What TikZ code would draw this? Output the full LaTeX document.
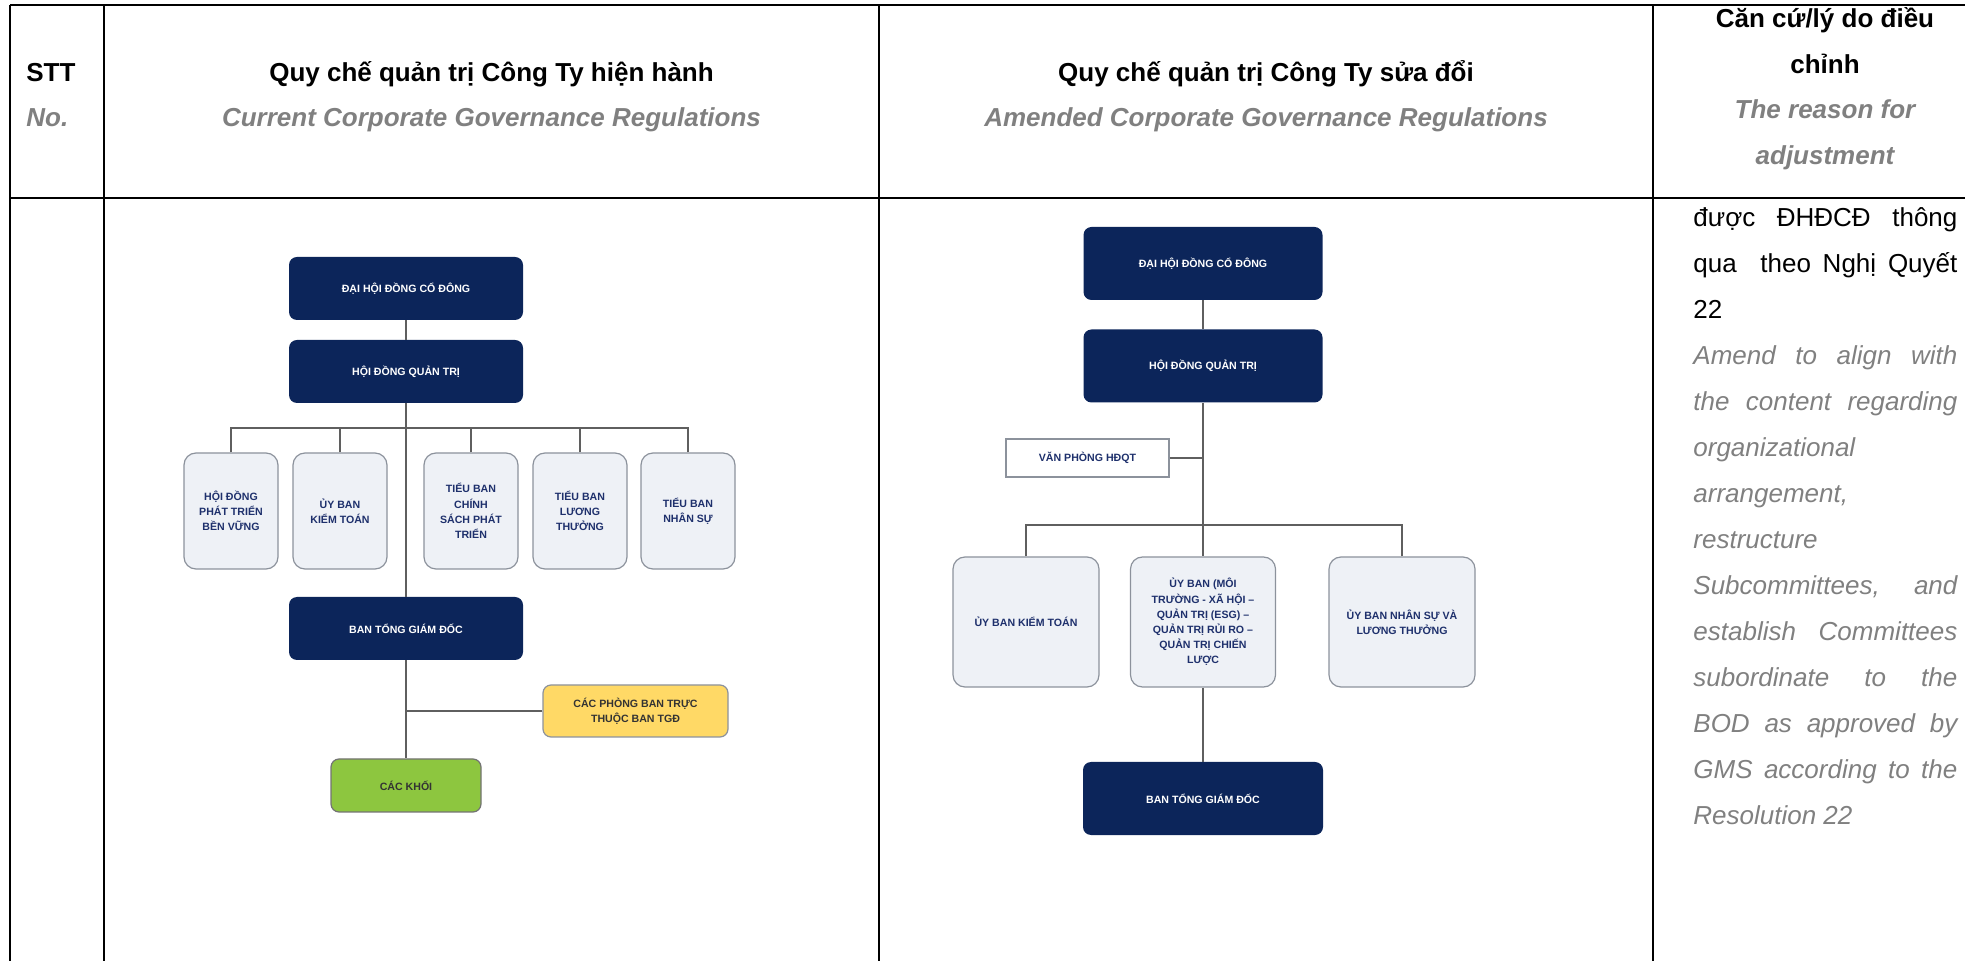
\documentclass[tikz,border=0pt]{standalone}
\usepackage{fontspec}
\setmainfont{Liberation Sans}
\usetikzlibrary{positioning}

\definecolor{navy}{RGB}{12, 37, 90}
\definecolor{paleblue}{RGB}{238, 241, 246}
\definecolor{boxedge}{RGB}{140, 146, 156}
\definecolor{boxtext}{RGB}{30, 48, 108}
\definecolor{linkgray}{RGB}{95, 95, 95}
\definecolor{goldbox}{RGB}{255, 217, 102}
\definecolor{limebox}{RGB}{141, 198, 63}
\colorlet{notegray}{black!50}

\newcommand{\headfont}{\fontsize{13}{15.6}\selectfont\bfseries}
\newcommand{\bodyfont}{\fontsize{13}{15.6}\selectfont}
\newcommand{\orgfont}{\fontsize{5.3}{7.6}\selectfont\bfseries}

\tikzstyle{grid} = [line width=1.4pt, black]
\tikzstyle{head} = [anchor=base, inner sep=0pt, font=\headfont]
\tikzstyle{headen} = [head, font=\headfont\itshape, text=notegray]
\tikzstyle{reason} = [anchor=base west, inner sep=0pt, font=\bodyfont]
\tikzstyle{reasonen} = [reason, font=\bodyfont\itshape, text=notegray]
\tikzstyle{navybox} = [
  fill=navy,
  text=white,
  rounded corners=4pt,
  inner sep=0pt,
  align=center,
  font=\orgfont,
]
\tikzstyle{palebox} = [
  fill=paleblue,
  draw=boxedge,
  line width=0.6pt,
  rounded corners=6pt,
  text=boxtext,
  inner sep=0pt,
  align=center,
  font=\orgfont,
]
\tikzstyle{link} = [draw=linkgray, line width=0.7pt]

\begin{document}
\begin{tikzpicture}[x=0.5pt, y=-0.5pt]

        \useasboundingbox (0,0) rectangle (1965,961);

        \draw [grid] (10,5) -- (1965,5);
        \draw [grid] (10,198) -- (1965,198);

        \foreach \x in {10,104,879,1653} {
          \draw [grid] (\x,5) -- (\x,961);
        }

        \node (stt) [head, anchor=base west] at (26,82) {STT};
        \node (no) [headen, anchor=base west] at (26,127) {No.};

        \node (curvn) [head] at (491.5,82) {Quy chế quản trị Công Ty hiện hành};
        \node (curen) [headen] at (491.5,127) {Current Corporate Governance Regulations};

        \node (newvn) [head] at (1266,82) {Quy chế quản trị Công Ty sửa đổi};
        \node (newen) [headen] at (1266,127) {Amended Corporate Governance Regulations};

        \node (why1) [head] at (1825,28) {Căn cứ/lý do điều};
        \node (why2) [head] at (1825,74) {chỉnh};
        \node (why3) [headen] at (1825,119) {The reason for};
        \node (why4) [headen] at (1825,165) {adjustment};

        \node (r1) [reason] at (1693,227) {\makebox[132pt][s]{được ĐHĐCĐ thông}};
        \node (r2) [reason] at (1693,273) {\makebox[132pt][s]{qua \ theo Nghị Quyết}};
        \node (r3) [reason] at (1693,319) {22};
        \node (r4) [reasonen] at (1693,365) {\makebox[132pt][s]{Amend to align with}};
        \node (r5) [reasonen] at (1693,411) {\makebox[132pt][s]{the content regarding}};
        \node (r6) [reasonen] at (1693,457) {organizational};
        \node (r7) [reasonen] at (1693,503) {arrangement,};
        \node (r8) [reasonen] at (1693,549) {restructure};
        \node (r9) [reasonen] at (1693,595) {\makebox[132pt][s]{Subcommittees, and}};
        \node (r10) [reasonen] at (1693,641) {\makebox[132pt][s]{establish Committees}};
        \node (r11) [reasonen] at (1693,687) {\makebox[132pt][s]{subordinate to the}};
        \node (r12) [reasonen] at (1693,733) {\makebox[132pt][s]{BOD as approved by}};
        \node (r13) [reasonen] at (1693,779) {\makebox[132pt][s]{GMS according to the}};
        \node (r14) [reasonen] at (1693,825) {Resolution 22};

        \node (dhdcd) [navybox, minimum width=117pt, minimum height=31.5pt] at (406,288.5) {ĐẠI HỘI ĐỒNG CỔ ĐÔNG};
        \node (hdqt) [navybox, minimum width=117pt, minimum height=31.5pt] at (406,371.5) {HỘI ĐỒNG QUẢN TRỊ};

        \node (ptbv) [palebox, minimum width=47pt, minimum height=58pt] at (231,511) {HỘI ĐỒNG\\PHÁT TRIỂN\\BỀN VỮNG};
        \node (ktoan) [palebox, minimum width=47pt, minimum height=58pt] at (340,511) {ỦY BAN\\KIỂM TOÁN};
        \node (csach) [palebox, minimum width=47pt, minimum height=58pt] at (471,511) {TIỂU BAN\\CHÍNH\\SÁCH PHÁT\\TRIỂN};
        \node (luong) [palebox, minimum width=47pt, minimum height=58pt] at (580,511) {TIỂU BAN\\LƯƠNG\\THƯỞNG};
        \node (nsu) [palebox, minimum width=47pt, minimum height=58pt] at (688,511) {TIỂU BAN\\NHÂN SỰ};

        \node (btgd) [navybox, minimum width=117pt, minimum height=31.5pt] at (406,628.5) {BAN TỔNG GIÁM ĐỐC};

        \node (pban) [palebox, fill=goldbox, text=black!80, rounded corners=4pt, minimum width=92.5pt, minimum height=26pt] at (635.5,711) {CÁC PHÒNG BAN TRỰC\\THUỘC BAN TGĐ};
        \node (khoi) [palebox, fill=limebox, draw=black!55, text=black!80, rounded corners=4pt, minimum width=75pt, minimum height=26.5pt] at (406,785.5) {CÁC KHỐI};

        \coordinate (bus) at (406,428);
        \coordinate (fork) at (406,711);

        \draw [link] (dhdcd) -- (hdqt);
        \draw [link] (hdqt) -- (btgd);
        \draw [link] (btgd) -- (khoi);
        \draw [link] (ptbv) |- (bus);
        \draw [link] (ktoan) |- (bus);
        \draw [link] (csach) |- (bus);
        \draw [link] (luong) |- (bus);
        \draw [link] (nsu) |- (bus);
        \draw [link] (pban) -- (fork);

        \node (dhdcd2) [navybox, minimum width=119.5pt, minimum height=36.5pt] at (1203,263.5) {ĐẠI HỘI ĐỒNG CỔ ĐÔNG};
        \node (hdqt2) [navybox, minimum width=119.5pt, minimum height=36.5pt] at (1203,366) {HỘI ĐỒNG QUẢN TRỊ};

        \node (vphong) [palebox, fill=white, rounded corners=0pt, minimum width=81.5pt, minimum height=19pt] at (1087.5,458) {VĂN PHÒNG HĐQT};

        \node (ukt) [palebox, minimum width=73pt, minimum height=65pt] at (1026,622) {ỦY BAN KIỂM TOÁN};
        \node (uesg) [palebox, minimum width=72.5pt, minimum height=65pt] at (1203,622) {ỦY BAN (MÔI\\TRƯỜNG - XÃ HỘI –\\QUẢN TRỊ (ESG) –\\QUẢN TRỊ RỦI RO –\\QUẢN TRỊ CHIẾN\\LƯỢC};
        \node (uns) [palebox, minimum width=73pt, minimum height=65pt] at (1402,622) {ỦY BAN NHÂN SỰ VÀ\\LƯƠNG THƯỞNG};

        \node (btgd2) [navybox, minimum width=120pt, minimum height=36.5pt] at (1203,798.5) {BAN TỔNG GIÁM ĐỐC};

        \coordinate (bus2) at (1203,525);
        \coordinate (vpjoin) at (1203,458);

        \draw [link] (dhdcd2) -- (hdqt2);
        \draw [link] (hdqt2) -- (uesg);
        \draw [link] (uesg) -- (btgd2);
        \draw [link] (ukt) |- (bus2);
        \draw [link] (uns) |- (bus2);
        \draw [link] (vphong) -- (vpjoin);

      \end{tikzpicture}
\end{document}
